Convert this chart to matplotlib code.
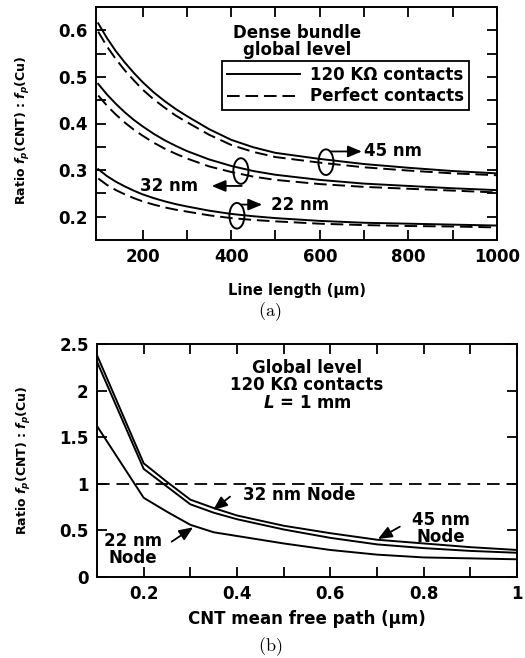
import matplotlib
matplotlib.use('Agg')
import matplotlib.pyplot as plt
from matplotlib.patches import Ellipse
from matplotlib.lines import Line2D

# ---------------- data (a) ----------------
line_len = [100, 120, 140, 160, 180, 200, 225, 250, 275, 300, 350, 400, 450, 500,
            600, 700, 800, 900, 1000]
r45_120k = [0.615, 0.583, 0.555, 0.531, 0.509, 0.489, 0.467, 0.448, 0.431, 0.416,
            0.388, 0.365, 0.349, 0.337, 0.324, 0.313, 0.305, 0.298, 0.293]
r45_perf = [0.597, 0.565, 0.538, 0.514, 0.493, 0.473, 0.452, 0.434, 0.417, 0.403,
            0.376, 0.354, 0.339, 0.328, 0.316, 0.306, 0.299, 0.293, 0.289]
r32_120k = [0.485, 0.462, 0.442, 0.424, 0.408, 0.394, 0.378, 0.364, 0.352, 0.341,
            0.323, 0.309, 0.298, 0.290, 0.279, 0.271, 0.266, 0.261, 0.257]
r32_perf = [0.460, 0.438, 0.419, 0.402, 0.387, 0.374, 0.359, 0.346, 0.335, 0.325,
            0.308, 0.296, 0.286, 0.279, 0.270, 0.264, 0.260, 0.256, 0.252]
r22_120k = [0.302, 0.287, 0.275, 0.265, 0.256, 0.248, 0.240, 0.233, 0.227, 0.222,
            0.213, 0.206, 0.201, 0.197, 0.191, 0.187, 0.185, 0.183, 0.181]
r22_perf = [0.282, 0.268, 0.257, 0.248, 0.240, 0.233, 0.226, 0.220, 0.215, 0.211,
            0.203, 0.197, 0.193, 0.190, 0.185, 0.182, 0.180, 0.179, 0.177]

# ---------------- data (b) ----------------
mfp = [0.1, 0.2, 0.25, 0.3, 0.35, 0.4, 0.5, 0.6, 0.7, 0.8, 0.9, 1.0]
b45 = [2.38, 1.22, 1.02, 0.83, 0.74, 0.66, 0.55, 0.47, 0.40, 0.36, 0.32, 0.29]
b32 = [2.31, 1.16, 0.97, 0.78, 0.69, 0.62, 0.51, 0.42, 0.35, 0.31, 0.28, 0.26]
b22 = [1.62, 0.85, 0.70, 0.56, 0.48, 0.44, 0.36, 0.29, 0.24, 0.21, 0.20, 0.19]

xt_a = [200, 300, 400, 500, 600, 700, 800, 900, 1000]
xl_a = ['200', '', '400', '', '600', '', '800', '', '1000']
yt_a = [0.2, 0.25, 0.3, 0.35, 0.4, 0.45, 0.5, 0.55, 0.6]
yl_a = ['0.2', '', '0.3', '', '0.4', '', '0.5', '', '0.6']
xt_b = [0.2, 0.3, 0.4, 0.5, 0.6, 0.7, 0.8, 0.9, 1.0]
xl_b = ['0.2', '', '0.4', '', '0.6', '', '0.8', '', '1']
yt_b = [0, 0.5, 1.0, 1.5, 2.0, 2.5]
yl_b = ['0', '0.5', '1', '1.5', '2', '2.5']

plt.rcParams['font.family'] = ['DejaVu Sans']
plt.rcParams['font.weight'] = 'bold'
plt.rcParams['axes.labelweight'] = 'bold'
plt.rcParams['mathtext.fontset'] = 'custom'
plt.rcParams['mathtext.rm'] = 'DejaVu Sans:bold'
plt.rcParams['mathtext.it'] = 'DejaVu Sans:italic:bold'
plt.rcParams['mathtext.bf'] = 'DejaVu Sans:bold'

fig = plt.figure(figsize=(5.25, 6.58), dpi=100)
W, H = 525.0, 658.0
ax1 = fig.add_axes([96 / W, 1 - 240 / H, (497 - 96) / W, (240 - 7) / H])
ax2 = fig.add_axes([97 / W, 1 - 577 / H, (517 - 97) / W, (577 - 344) / H])

LW = 1.4
DASH = (0, (6.5, 3.0))

for ax in (ax1, ax2):
    for s in ax.spines.values():
        s.set_linewidth(1.4)
    ax.tick_params(direction='in', top=True, right=True, length=7.5, width=1.3,
                   labelsize=12, pad=6)

# ---------- (a) ----------
ax1.plot(line_len, r45_120k, color='black', lw=LW)
ax1.plot(line_len, r45_perf, color='black', lw=LW, ls=DASH)
ax1.plot(line_len, r32_120k, color='black', lw=LW)
ax1.plot(line_len, r32_perf, color='black', lw=LW, ls=DASH)
ax1.plot(line_len, r22_120k, color='black', lw=LW)
ax1.plot(line_len, r22_perf, color='black', lw=LW, ls=DASH)
ax1.set_xlim(95, 1000)
ax1.set_ylim(0.15, 0.65)
ax1.set_xticks(xt_a)
ax1.set_xticklabels(xl_a)
ax1.set_yticks(yt_a)
ax1.set_yticklabels(yl_a)
ax1.set_xlabel('Line length (\u03bcm)', fontsize=10.5)
ax1.xaxis.set_label_coords(0.5, -0.185)
ax1.set_ylabel(r'Ratio $f_p$(CNT) : $f_p$(Cu)', fontsize=9)
ax1.yaxis.set_label_coords(-0.16, 0.47)

ax1.text(548, 0.594, 'Dense bundle', ha='center', va='center', fontsize=12)
ax1.text(548, 0.558, 'global level', ha='center', va='center', fontsize=12)

handles = [Line2D([], [], color='black', lw=LW),
           Line2D([], [], color='black', lw=LW, ls=DASH)]
leg = ax1.legend(handles, ['120 K\u03a9 contacts', 'Perfect contacts'],
                 loc='upper left', bbox_to_anchor=(0.314, 0.768), borderaxespad=0,
                 frameon=True, fancybox=False, edgecolor='black', framealpha=1,
                 handlelength=4.4, handletextpad=0.6, borderpad=0.3,
                 labelspacing=0.2, fontsize=12)
leg.get_frame().set_linewidth(1.3)

arrow_kw = dict(arrowstyle='-|>,head_length=0.6,head_width=0.25', color='black',
                lw=1.3, shrinkA=0, shrinkB=0, mutation_scale=14)
for (cx, cy) in [(614, 0.317), (422, 0.298), (413, 0.202)]:
    ax1.add_patch(Ellipse((cx, cy), 34, 0.055, fill=False, lw=1.4, color='black'))
ax1.annotate('', xy=(695, 0.340), xytext=(624, 0.340), arrowprops=arrow_kw)
ax1.text(700, 0.340, '45 nm', ha='left', va='center', fontsize=12)
ax1.annotate('', xy=(356, 0.266), xytext=(424, 0.266), arrowprops=arrow_kw)
ax1.text(325, 0.266, '32 nm', ha='right', va='center', fontsize=12)
ax1.annotate('', xy=(470, 0.226), xytext=(422, 0.226), arrowprops=arrow_kw)
ax1.text(490, 0.226, '22 nm', ha='left', va='center', fontsize=12)

fig.text(270 / W, 1 - 312 / H, r'$\mathrm{(a)}$', ha='center', va='center',
         fontsize=13, math_fontfamily='cm')

# ---------- (b) ----------
ax2.plot(mfp, b45, color='black', lw=LW)
ax2.plot(mfp, b32, color='black', lw=LW)
ax2.plot(mfp, b22, color='black', lw=LW)
ax2.axhline(1.0, color='black', lw=1.3, ls=(0, (7, 3.8)))
ax2.set_xlim(0.1, 1.0)
ax2.set_ylim(0, 2.5)
ax2.set_xticks(xt_b)
ax2.set_xticklabels(xl_b)
ax2.set_yticks(yt_b)
ax2.set_yticklabels(yl_b)
ax2.set_xlabel('CNT mean free path (\u03bcm)', fontsize=12)
ax2.xaxis.set_label_coords(0.5, -0.142)
ax2.set_ylabel(r'Ratio $f_p$(CNT) : $f_p$(Cu)', fontsize=9)
ax2.yaxis.set_label_coords(-0.152, 0.5)

ax2.text(0.55, 2.243, 'Global level', ha='center', va='center', fontsize=12)
ax2.text(0.55, 2.06, '120 K\u03a9 contacts', ha='center', va='center', fontsize=12)
ax2.text(0.55, 1.867, r'$\mathit{L}$ = 1 mm', ha='center', va='center', fontsize=12)

ax2.text(0.413, 0.88, '32 nm Node', ha='left', va='center', fontsize=12)
ax2.annotate('', xy=(0.349, 0.719), xytext=(0.385, 0.862), arrowprops=arrow_kw)
ax2.text(0.837, 0.518, '45 nm\nNode', ha='center', va='center', fontsize=12,
         linespacing=0.95)
ax2.annotate('', xy=(0.702, 0.408), xytext=(0.749, 0.54), arrowprops=arrow_kw)
ax2.text(0.177, 0.293, '22 nm\nNode', ha='center', va='center', fontsize=12,
         linespacing=0.95)
ax2.annotate('', xy=(0.306, 0.533), xytext=(0.26, 0.379), arrowprops=arrow_kw)

fig.text(270 / W, 1 - 647 / H, r'$\mathrm{(b)}$', ha='center', va='center',
         fontsize=13, math_fontfamily='cm')

fig.savefig('out.png', dpi=100)
